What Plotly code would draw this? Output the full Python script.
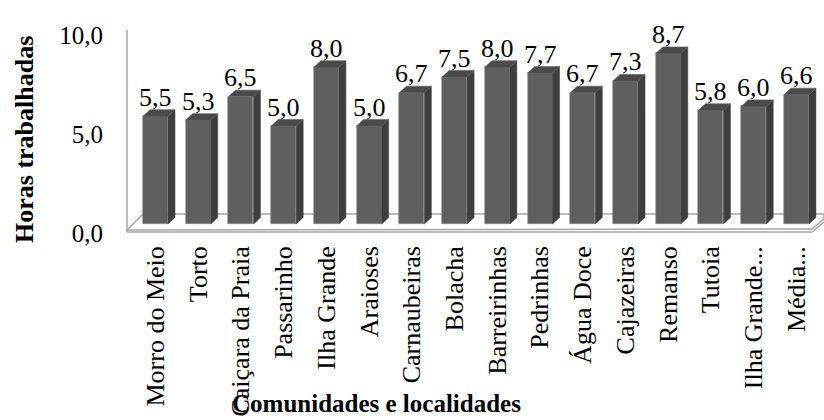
import plotly.graph_objects as go

# Horas trabalhadas por comunidade / localidade
categorias = [
    "Morro do Meio", "Torto", "Caiçara da Praia", "Passarinho", "Ilha Grande",
    "Araioses", "Carnaubeiras", "Bolacha", "Barreirinhas", "Pedrinhas",
    "Água Doce", "Cajazeiras", "Remanso", "Tutoia", "Ilha Grande...", "Média...",
]
horas = [5.5, 5.3, 6.5, 5.0, 8.0, 5.0, 6.7, 7.5, 8.0, 7.7, 6.7, 7.3, 8.7, 5.8, 6.0, 6.6]
ticks_parede = [0, 5, 10]
ticks_texto = ["0,0", "5,0", "10,0"]

FONT = "Liberation Serif"
FS = 26
W, H = 824, 420
L, R, T, B = 127, 0, 10, 180
PW, PH = W - L - R, H - T - B

# pseudo-3D column geometry (data units)
n = len(categorias)
idx = list(range(n))
bar_w = 0.585
dx = 0.164   # depth offset along x
dy = 0.33    # depth offset along y

front_col = "#5f5f5f"
side_col = "#3e3e3e"
top_col = "#4a4a4a"
edge_col = "#8a8a8a"

fig = go.Figure()

# floor / wall outline, positioned in plot-relative pixels
def px(x):
    return (x - L) / PW

def py(y):
    return (T + PH - y) / PH

floor = [(127, 230), (143, 214), (824, 214), (824, 219), (812, 229)]
path = "M " + " L ".join(f"{px(a):.5f},{py(b):.5f}" for a, b in floor) + " Z"
fig.add_shape(type="path", path=path, xref="paper", yref="paper",
              fillcolor="white", line=dict(color="#a6a6a6", width=1.5), layer="below")
fig.add_shape(type="line", xref="paper", yref="paper",
              x0=px(127), y0=py(232), x1=px(812), y1=py(232),
              line=dict(color="#a6a6a6", width=1.5), layer="below")
fig.add_shape(type="line", xref="paper", yref="paper",
              x0=px(812), y0=py(232), x1=px(824), y1=py(222),
              line=dict(color="#a6a6a6", width=1.5), layer="below")
fig.add_shape(type="line", xref="paper", yref="paper",
              x0=px(127), y0=py(232), x1=px(127), y1=py(30),
              line=dict(color="#a6a6a6", width=1.5), layer="below")

# side faces
sx, sy = [], []
for i, v in zip(idx, horas):
    r = i + bar_w / 2
    sx += [r, r + dx, r + dx, r, r, None]
    sy += [0, dy, v + dy, v, 0, None]
fig.add_trace(go.Scatter(x=sx, y=sy, mode="lines", fill="toself", fillcolor=side_col,
                         line=dict(color=side_col, width=0.5), hoverinfo="skip",
                         showlegend=False))

# top faces
tx, ty = [], []
for i, v in zip(idx, horas):
    lft, r = i - bar_w / 2, i + bar_w / 2
    tx += [lft, r, r + dx, lft + dx, lft, None]
    ty += [v, v, v + dy, v + dy, v, None]
fig.add_trace(go.Scatter(x=tx, y=ty, mode="lines", fill="toself", fillcolor=top_col,
                         line=dict(color="#5a5a5a", width=0.6), hoverinfo="skip",
                         showlegend=False))

# front faces
fig.add_trace(go.Bar(x=idx, y=horas, width=bar_w, marker=dict(color=front_col,
                     line=dict(color=edge_col, width=0.6)), showlegend=False))

# value labels
for i, v in zip(idx, horas):
    fig.add_annotation(x=i, y=v, xref="x", yref="y", text=f"{v:.1f}".replace(".", ","),
                       showarrow=False, yshift=19, xanchor="center", yanchor="middle",
                       font=dict(family=FONT, size=FS, color="black"))

# scale of the back wall for the tick labels
fig.add_trace(go.Scatter(x=[None], y=[None], yaxis="y2", showlegend=False))

fig.add_annotation(text="<b>Horas trabalhadas</b>", xref="paper", yref="paper",
                   x=px(24), y=py(140), xanchor="center", yanchor="middle",
                   textangle=-90, showarrow=False,
                   font=dict(family=FONT, size=26, color="black"))
fig.add_annotation(text="<b>Comunidades e localidades</b>", xref="paper", yref="paper",
                   x=px(376), y=py(403), xanchor="center", yanchor="middle",
                   showarrow=False, borderpad=0,
                   font=dict(family=FONT, size=25, color="black"))

fig.update_layout(
    width=W, height=H, autosize=False,
    margin=dict(l=L, r=R, t=T, b=B),
    paper_bgcolor="white", plot_bgcolor="rgba(0,0,0,0)",
    bargap=0,
    xaxis=dict(range=[-0.667, 15.645], tickmode="array", tickvals=idx,
               ticktext=categorias, tickangle=-90, showgrid=False, zeroline=False,
               showline=False, ticks="", tickfont=dict(family=FONT, size=FS, color="black")),
    yaxis=dict(range=[-0.816, 10.918], showgrid=False, zeroline=False,
               showticklabels=False, showline=False),
    yaxis2=dict(overlaying="y", side="left", range=[-0.3535, 11.263],
                tickmode="array", tickvals=ticks_parede, ticktext=ticks_texto,
                showgrid=False, zeroline=False, showline=False, ticks="outside",
                ticklen=18, tickcolor="rgba(0,0,0,0)",
                tickfont=dict(family=FONT, size=25, color="black")),
)

fig.write_html("out.html")
